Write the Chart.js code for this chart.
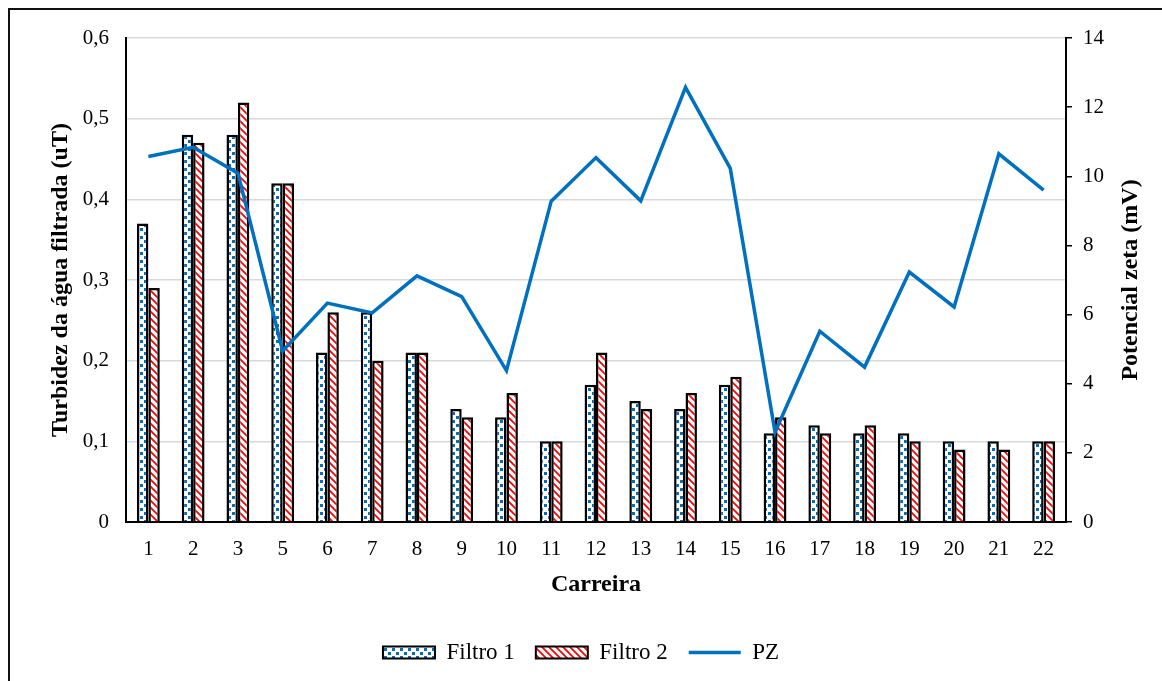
<!DOCTYPE html>
<html>
<head>
<meta charset="utf-8">
<script src="https://cdn.jsdelivr.net/npm/chart.js@4"></script>
<style>
  html, body { margin: 0; padding: 0; background: #fff; }
  #wrap { position: relative; width: 1162px; height: 681px; overflow: hidden; }
  #frame { position: absolute; left: 8px; top: 8px; width: 1300px; height: 800px;
           border: 2px solid #111; pointer-events: none; }
</style>
</head>
<body>
<div id="wrap">
  <canvas id="grafico" width="1162" height="681"></canvas>
  <div id="frame"></div>
</div>
<script>
// Carreiras (não há a 4)
const carreiras = ['1', '2', '3', '5', '6', '7', '8', '9', '10', '11', '12',
                   '13', '14', '15', '16', '17', '18', '19', '20', '21', '22'];

// Turbidez da água filtrada (uT)
const filtro1 = [0.37, 0.48, 0.48, 0.42, 0.21, 0.26, 0.21, 0.14, 0.13, 0.10, 0.17,
                 0.15, 0.14, 0.17, 0.11, 0.12, 0.11, 0.11, 0.10, 0.10, 0.10];
const filtro2 = [0.29, 0.47, 0.52, 0.42, 0.26, 0.20, 0.21, 0.13, 0.16, 0.10, 0.21,
                 0.14, 0.16, 0.18, 0.13, 0.11, 0.12, 0.10, 0.09, 0.09, 0.10];

// Potencial zeta (mV)
const pz = [10.57, 10.84, 10.09, 4.95, 6.33, 6.05, 7.12, 6.52, 4.38, 9.28, 10.54,
            9.29, 12.57, 10.23, 2.6, 5.52, 4.48, 7.23, 6.22, 10.65, 9.6];

const AZUL = '#0070C0';
const FONTE = "'Liberation Serif', 'Times New Roman', serif";

// padrão "confete" azul do Filtro 1
function padraoConfete() {
    const c = document.createElement('canvas');
    c.width = 8; c.height = 8;
    const g = c.getContext('2d');
    g.fillStyle = '#fff';
    g.fillRect(0, 0, 8, 8);
    g.fillStyle = AZUL;
    g.fillRect(0, 0, 3, 3);
    g.fillRect(4, 4, 3, 3);
    return g.createPattern(c, 'repeat');
}

// padrão de listras diagonais vermelhas do Filtro 2
function padraoListras() {
    const c = document.createElement('canvas');
    c.width = 7; c.height = 7;
    const g = c.getContext('2d');
    g.fillStyle = '#fff';
    g.fillRect(0, 0, 7, 7);
    g.strokeStyle = '#FF0000';
    g.lineWidth = 1.8;
    g.beginPath();
    g.moveTo(-1, -1); g.lineTo(8, 8);
    g.moveTo(-1, 6); g.lineTo(1, 8);
    g.moveTo(6, -1); g.lineTo(8, 1);
    g.stroke();
    return g.createPattern(c, 'repeat');
}

// título do eixo direito, lido de baixo para cima
const tituloDireito = {
    id: 'tituloDireito',
    afterDraw(chart) {
        const { ctx, chartArea } = chart;
        ctx.save();
        ctx.translate(1131, (chartArea.top + chartArea.bottom) / 2);
        ctx.rotate(-Math.PI / 2);
        ctx.fillStyle = '#000';
        ctx.font = 'bold 24px ' + FONTE;
        ctx.textAlign = 'center';
        ctx.textBaseline = 'middle';
        ctx.fillText('Potencial zeta (mV)', 0, 0);
        ctx.restore();
    }
};

const canvas = document.getElementById('grafico');

new Chart(canvas, {
    type: 'bar',
    data: {
        labels: carreiras,
        datasets: [
            {
                label: 'Filtro 1',
                data: filtro1,
                backgroundColor: padraoConfete(),
                borderColor: '#000',
                borderWidth: 2.5,
                categoryPercentage: 0.51,
                barPercentage: 1,
                yAxisID: 'y',
                order: 1
            },
            {
                label: 'Filtro 2',
                data: filtro2,
                backgroundColor: padraoListras(),
                borderColor: '#000',
                borderWidth: 2.5,
                categoryPercentage: 0.51,
                barPercentage: 1,
                yAxisID: 'y',
                order: 1
            },
            {
                type: 'line',
                label: 'PZ',
                data: pz,
                borderColor: AZUL,
                backgroundColor: AZUL,
                borderWidth: 3.5,
                pointRadius: 0,
                tension: 0,
                yAxisID: 'y1',
                order: 0
            }
        ]
    },
    options: {
        responsive: false,
        animation: false,
        layout: { padding: { top: 38, left: 0, right: 0, bottom: 7 } },
        plugins: {
            tooltip: { enabled: false },
            legend: {
                position: 'bottom',
                labels: {
                    usePointStyle: true,
                    pointStyleWidth: 52,
                    boxHeight: 12,
                    padding: 21,
                    color: '#000',
                    font: { family: FONTE, size: 23 },
                    sort: (a, b) => a.datasetIndex - b.datasetIndex,
                    generateLabels: (chart) => {
                        const itens = Chart.defaults.plugins.legend.labels.generateLabels(chart);
                        itens.forEach(it => {
                            it.pointStyle = it.datasetIndex === 2 ? 'line' : 'rect';
                            it.lineWidth = it.datasetIndex === 2 ? 3.5 : 2;
                        });
                        return itens;
                    }
                }
            }
        },
        scales: {
            x: {
                grid: { drawOnChartArea: false, drawTicks: false },
                border: { color: '#000', width: 2 },
                ticks: { color: '#000', font: { family: FONTE, size: 21 }, padding: 15 },
                title: {
                    display: true,
                    text: 'Carreira',
                    color: '#000',
                    font: { family: FONTE, size: 24, weight: 'bold' },
                    padding: { top: 4, bottom: 21 }
                },
                afterFit: (s) => { s.height = 98; }
            },
            y: {
                position: 'left',
                min: 0,
                max: 0.6,
                ticks: {
                    stepSize: 0.1,
                    color: '#000',
                    padding: 17,
                    font: { family: FONTE, size: 21 },
                    callback: (v) => v === 0 ? '0' : v.toFixed(1).replace('.', ',')
                },
                grid: { color: '#d9d9d9', lineWidth: 1.5, drawTicks: false },
                border: { color: '#000', width: 2 },
                title: {
                    display: true,
                    text: 'Turbidez da água filtrada (uT)',
                    color: '#000',
                    font: { family: FONTE, size: 24, weight: 'bold' },
                    padding: { top: 46, bottom: 0 }
                },
                afterFit: (s) => { s.width = 126; }
            },
            y1: {
                position: 'right',
                min: 0,
                max: 14,
                ticks: {
                    stepSize: 2,
                    color: '#000',
                    padding: 11,
                    font: { family: FONTE, size: 21 }
                },
                grid: { drawOnChartArea: false, tickLength: 6, color: '#000', lineWidth: 1.5 },
                border: { color: '#000', width: 2 },
                title: { display: false },
                afterFit: (s) => { s.width = 96; }
            }
        }
    },
    plugins: [tituloDireito]
});
</script>
</body>
</html>
